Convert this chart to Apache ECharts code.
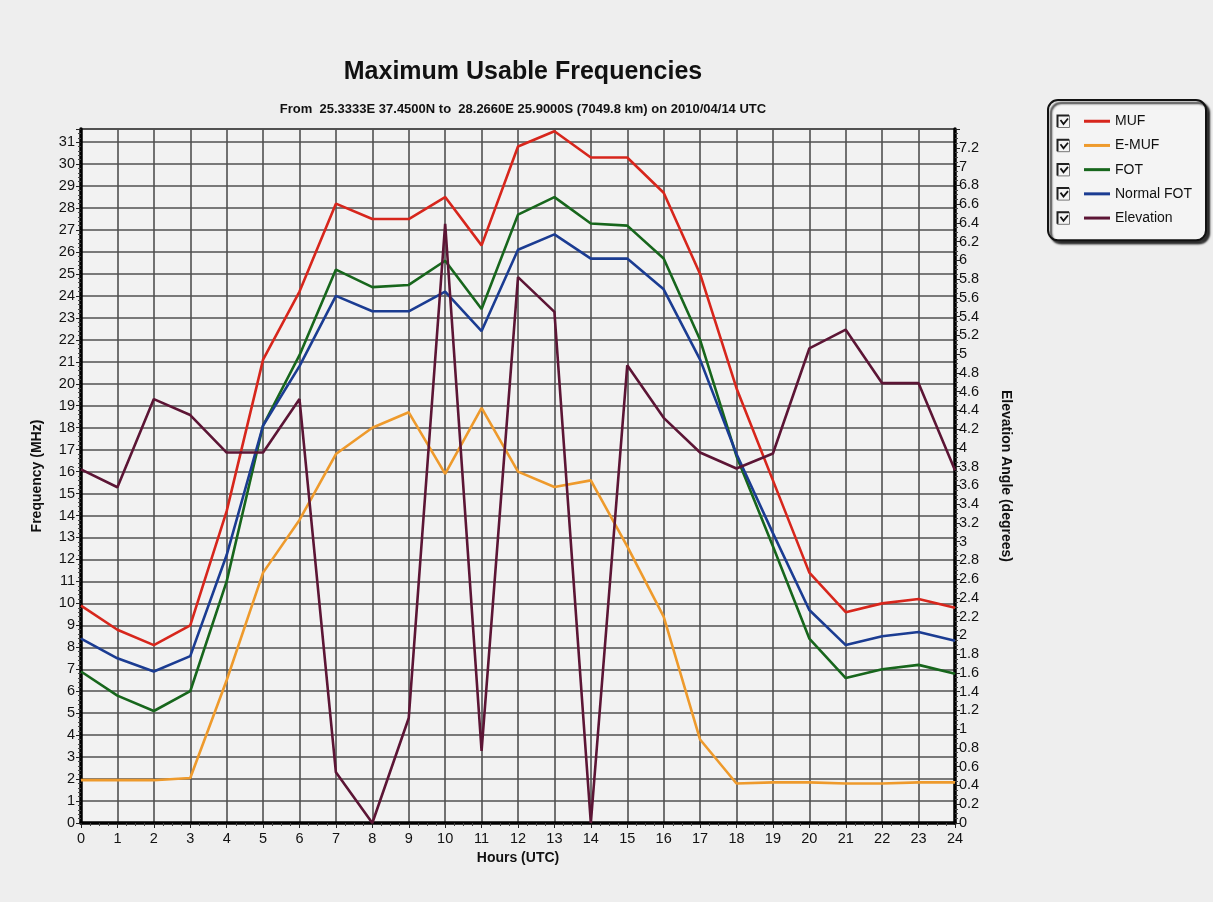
<!DOCTYPE html>
<html>
<head>
<meta charset="utf-8">
<title>Maximum Usable Frequencies</title>
<script src="https://cdn.jsdelivr.net/npm/echarts@6/dist/echarts.min.js"></script>
<style>
  html, body { margin: 0; padding: 0; background: #eeeeee; }
  #chart { width: 1213px; height: 902px; }
</style>
</head>
<body>
<div id="chart"></div>
<script>
// hours (UTC)
var hours = [0, 1, 2, 3, 4, 5, 6, 7, 8, 9, 10, 11, 12, 13, 14, 15, 16, 17, 18, 19, 20, 21, 22, 23, 24];

// MHz
var muf = [9.9, 8.8, 8.1, 9.0, 14.2, 21.1, 24.2, 28.2, 27.5, 27.5, 28.5, 26.3, 30.8, 31.5, 30.3, 30.3, 28.7, 25.0, 19.8, 15.6, 11.4, 9.6, 10.0, 10.2, 9.8];
var eMuf = [1.95, 1.95, 1.95, 2.05, 6.5, 11.4, 13.8, 16.8, 18.0, 18.7, 15.9, 18.9, 16.0, 15.3, 15.6, 12.6, 9.4, 3.8, 1.8, 1.85, 1.85, 1.8, 1.8, 1.85, 1.85];
var fot = [6.9, 5.8, 5.1, 6.0, 11.0, 18.1, 21.3, 25.2, 24.4, 24.5, 25.6, 23.4, 27.7, 28.5, 27.3, 27.2, 25.7, 22.0, 16.7, 12.6, 8.4, 6.6, 7.0, 7.2, 6.8];
var normalFot = [8.4, 7.5, 6.9, 7.6, 12.2, 18.1, 20.8, 24.0, 23.3, 23.3, 24.2, 22.4, 26.1, 26.8, 25.7, 25.7, 24.3, 21.1, 16.8, 13.2, 9.7, 8.1, 8.5, 8.7, 8.3];
// degrees
var elevation = [3.77, 3.58, 4.52, 4.35, 3.95, 3.95, 4.52, 0.54, 0, 1.12, 6.39, 0.77, 5.82, 5.45, 0, 4.88, 4.32, 3.95, 3.78, 3.94, 5.06, 5.26, 4.69, 4.69, 3.76];

var seriesNames = ["MUF", "E-MUF", "FOT", "Normal FOT", "Elevation"];
var seriesColors = ["#d7261c", "#ee9a2c", "#17661c", "#1b3c92", "#5c1535"];

function pairs(arr) {
  var out = [];
  for (var i = 0; i < hours.length; i++) {
    out.push([hours[i], arr[i]]);
  }
  return out;
}

var chart = echarts.init(document.getElementById("chart"));

var gridColor = "#505050";
var fontFamily = "'Liberation Sans', Arial, sans-serif";

// checkboxes next to legend items
var checks = [];
for (var k = 0; k < seriesNames.length; k++) {
  var cy = 115 + k * 24.2;
  checks.push({
    type: "rect",
    left: 1057,
    top: cy,
    shape: { width: 12, height: 12 },
    style: { fill: "#f4f4f4", stroke: "#777", lineWidth: 1 },
    z: 100
  });
  checks.push({
    type: "polyline",
    shape: { points: [[1057.5, cy + 12], [1057.5, cy + 0.5], [1069, cy + 0.5]] },
    style: { stroke: "#222", lineWidth: 2, fill: null },
    z: 101
  });
  checks.push({
    type: "polyline",
    shape: { points: [[1060.5, cy + 5], [1063.5, cy + 9], [1068, cy + 3.5]] },
    style: { stroke: "#111", lineWidth: 1.8, fill: null },
    z: 101
  });
}

var seriesList = [];
var dataList = [muf, eMuf, fot, normalFot, elevation];
for (var s = 0; s < seriesNames.length; s++) {
  seriesList.push({
    name: seriesNames[s],
    type: "line",
    yAxisIndex: s === 4 ? 1 : 0,
    symbol: "none",
    data: pairs(dataList[s]),
    lineStyle: { color: seriesColors[s], width: 2.6 },
    itemStyle: { color: seriesColors[s] },
    animation: false
  });
}

chart.setOption({
  backgroundColor: "#eeeeee",
  textStyle: { fontFamily: fontFamily },
  title: [
    {
      text: "Maximum Usable Frequencies",
      left: 518,
      top: 55,
      textAlign: "center",
      textStyle: { fontSize: 25, fontWeight: "bold", color: "#111", fontFamily: fontFamily }
    },
    {
      text: "From  25.3333E 37.4500N to  28.2660E 25.9000S (7049.8 km) on 2010/04/14 UTC",
      left: 518,
      top: 98,
      textAlign: "center",
      textStyle: { fontSize: 13, fontWeight: "bold", color: "#111", fontFamily: fontFamily }
    }
  ],
  legend: {
    orient: "vertical",
    left: 1048,
    top: 100,
    padding: [13, 14, 14, 36],
    itemGap: 7.7,
    itemWidth: 26,
    itemHeight: 3,
    icon: "rect",
    data: seriesNames,
    backgroundColor: "#f4f4f4",
    borderColor: "#111",
    borderWidth: 2,
    borderRadius: 10,
    shadowColor: "rgba(0,0,0,0.8)",
    shadowOffsetX: 3,
    shadowOffsetY: 3,
    shadowBlur: 2,
    textStyle: { fontSize: 14, lineHeight: 16.5, color: "#111", fontFamily: fontFamily },
    selectedMode: false
  },
  graphic: checks,
  grid: {
    left: 81,
    right: 258,
    top: 129,
    bottom: 79,
    show: true,
    backgroundColor: "#f2f2f2",
    borderColor: "#222",
    borderWidth: 1.5
  },
  xAxis: {
    type: "value",
    min: 0,
    max: 24,
    interval: 1,
    name: "Hours (UTC)",
    nameLocation: "middle",
    nameGap: 27,
    nameTextStyle: { fontSize: 14, fontWeight: "bold", color: "#111" },
    axisLine: { show: true, lineStyle: { color: "#000", width: 3.5 } },
    axisTick: { show: true, length: 5, lineStyle: { color: "#222" } },
    minorTick: { show: true, splitNumber: 4, length: 3, lineStyle: { color: "#444" } },
    axisLabel: { fontSize: 14.5, color: "#111", margin: 8 },
    splitLine: { show: true, lineStyle: { color: gridColor, width: 1.6 } }
  },
  yAxis: [
    {
      type: "value",
      min: 0,
      max: 31.6,
      interval: 1,
      name: "Frequency (MHz)",
      nameLocation: "middle",
      nameGap: 37,
      nameRotate: 90,
      nameTextStyle: { fontSize: 14, fontWeight: "bold", color: "#111" },
      axisLine: { show: true, lineStyle: { color: "#000", width: 3.5 } },
      axisTick: { show: true, length: 5, lineStyle: { color: "#222" } },
      minorTick: { show: true, splitNumber: 5, length: 3, lineStyle: { color: "#444" } },
      axisLabel: { fontSize: 14.5, color: "#111", margin: 6, showMaxLabel: false },
      splitLine: { show: true, lineStyle: { color: gridColor, width: 1.6 } }
    },
    {
      type: "value",
      min: 0,
      max: 7.4,
      interval: 0.2,
      position: "right",
      name: "Elevation Angle (degrees)",
      nameLocation: "middle",
      nameGap: 44,
      nameRotate: -90,
      nameTextStyle: { fontSize: 14, fontWeight: "bold", color: "#111" },
      axisLine: { show: true, lineStyle: { color: "#000", width: 3.5 } },
      axisTick: { show: true, length: 5, lineStyle: { color: "#222" } },
      minorTick: { show: true, splitNumber: 4, length: 3, lineStyle: { color: "#444" } },
      axisLabel: { fontSize: 14.5, color: "#111", margin: 4, showMaxLabel: false },
      splitLine: { show: false }
    }
  ],
  series: seriesList
});
</script>
</body>
</html>
